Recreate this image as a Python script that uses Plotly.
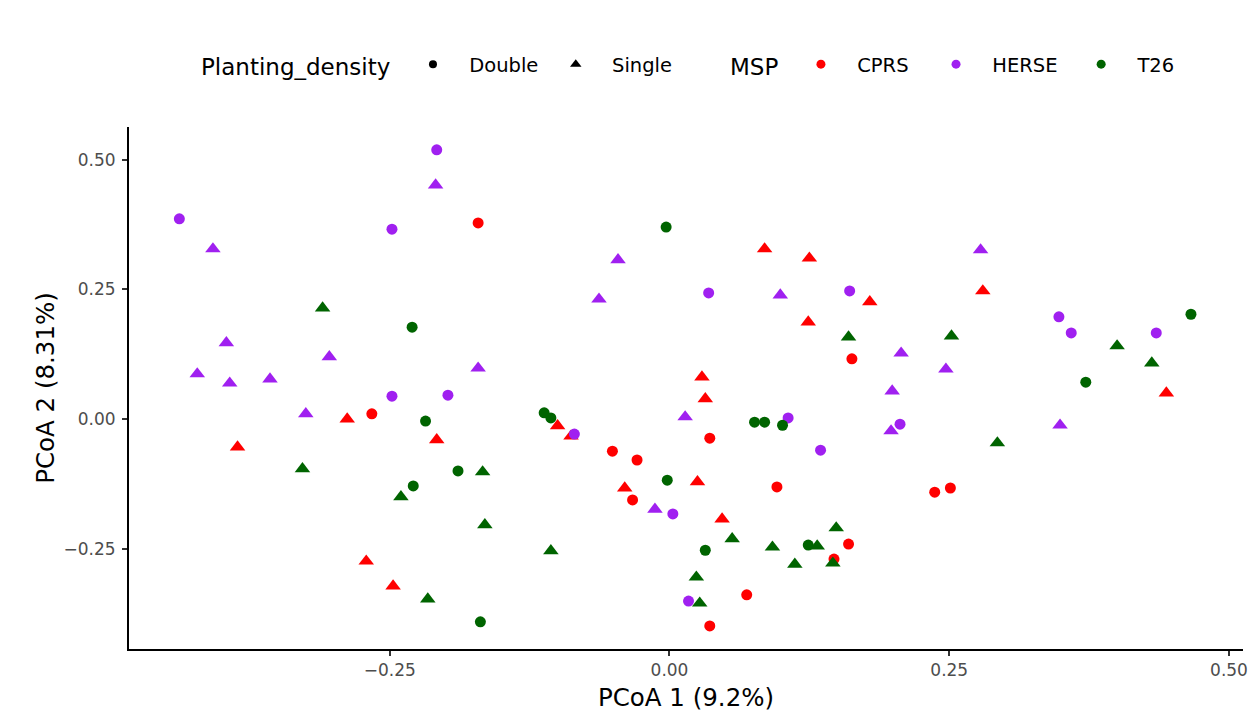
import plotly.graph_objects as go

# ---- data (PCoA coordinates) ----
cprs_double_x = [-0.171, -0.266, -0.051, -0.029, -0.033, 0.036, 0.096, 0.237, 0.251, 0.160, 0.147, 0.069, 0.036, 0.163]
cprs_double_y = [0.378, 0.010, -0.062, -0.079, -0.156, -0.037, -0.131, -0.141, -0.133, -0.241, -0.270, -0.339, -0.399, 0.116]
cprs_single_x = [-0.288, -0.386, -0.271, -0.247, -0.208, -0.100, -0.088, -0.040, 0.085, 0.125, 0.179, 0.124, 0.029, 0.032, 0.025, 0.047, 0.280, 0.444]
cprs_single_y = [0.000, -0.054, -0.274, -0.322, -0.040, -0.013, -0.033, -0.133, 0.328, 0.310, 0.226, 0.187, 0.081, 0.039, -0.121, -0.193, 0.247, 0.050]

herse_double_x = [-0.438, -0.248, -0.248, -0.208, -0.198, -0.085, 0.003, 0.035, 0.161, 0.106, 0.135, 0.206, 0.017, 0.348, 0.359, 0.435]
herse_double_y = [0.386, 0.366, 0.044, 0.519, 0.046, -0.029, -0.183, 0.243, 0.247, 0.002, -0.060, -0.010, -0.351, 0.197, 0.166, 0.166]
herse_single_x = [-0.408, -0.396, -0.304, -0.422, -0.393, -0.357, -0.325, -0.209, -0.046, -0.063, -0.171, -0.013, 0.099, 0.207, 0.247, 0.199, 0.014, 0.198, 0.278, 0.349]
herse_single_y = [0.328, 0.147, 0.120, 0.087, 0.069, 0.077, 0.010, 0.451, 0.307, 0.231, 0.098, -0.174, 0.239, 0.127, 0.096, 0.054, 0.004, -0.023, 0.326, -0.012]

t26_double_x = [-0.230, -0.003, -0.218, -0.112, -0.106, -0.189, -0.229, -0.169, -0.002, 0.076, 0.085, 0.101, 0.032, 0.124, 0.466, 0.372]
t26_double_y = [0.177, 0.370, -0.004, 0.012, 0.002, -0.100, -0.129, -0.391, -0.118, -0.006, -0.006, -0.012, -0.253, -0.243, 0.202, 0.071]
t26_single_x = [-0.310, -0.328, -0.240, -0.167, -0.165, -0.106, -0.216, 0.160, 0.252, 0.056, 0.092, 0.149, 0.132, 0.112, 0.146, 0.024, 0.027, 0.400, 0.431, 0.293]
t26_single_y = [0.214, -0.096, -0.150, -0.102, -0.204, -0.254, -0.347, 0.158, 0.160, -0.231, -0.247, -0.210, -0.245, -0.280, -0.278, -0.305, -0.355, 0.141, 0.108, -0.046]

msp_levels = ["CPRS", "HERSE", "T26"]
density_levels = ["Double", "Single"]
tick_vals = [-0.25, 0.0, 0.25, 0.50]
tick_text = ["\u22120.25", "0.00", "0.25", "0.50"]

colors = {"CPRS": "#FF0000", "HERSE": "#A020F0", "T26": "#006400"}
symbols = {"Double": "circle", "Single": "triangle-up"}
sizes = {"Double": 11, "Single": 13.5}

series = {
    ("CPRS", "Double"): (cprs_double_x, cprs_double_y),
    ("CPRS", "Single"): (cprs_single_x, cprs_single_y),
    ("HERSE", "Double"): (herse_double_x, herse_double_y),
    ("HERSE", "Single"): (herse_single_x, herse_single_y),
    ("T26", "Double"): (t26_double_x, t26_double_y),
    ("T26", "Single"): (t26_single_x, t26_single_y),
}

fig = go.Figure()
for (msp, dens), (xs, ys) in series.items():
    fig.add_trace(go.Scatter(
        x=xs, y=ys, mode="markers", showlegend=False,
        marker=dict(color=colors[msp], symbol=symbols[dens], size=sizes[dens], line=dict(width=0)),
        name=f"{msp} {dens}",
    ))

NB = "\u00a0"
TH = "\u2009"
lead = NB * 2 + TH
trail = {"Double": NB * 2, "Single": NB * 2, "CPRS": NB * 3 + TH, "HERSE": NB * 3, "T26": NB * 2}

# legend entries (shape legend)
for dens in density_levels:
    fig.add_trace(go.Scatter(
        x=[None], y=[None], mode="markers", name=lead + dens + trail[dens], legend="legend",
        marker=dict(color="black", symbol=symbols[dens], size=8 if dens == "Double" else 10),
    ))
# legend entries (colour legend)
for msp in msp_levels:
    fig.add_trace(go.Scatter(
        x=[None], y=[None], mode="markers", name=lead + msp + trail[msp], legend="legend2",
        marker=dict(color=colors[msp], symbol="circle", size=9),
    ))

W, H = 1249, 709  # page body has an 8px margin
font_family = "DejaVu Sans, Verdana, sans-serif"
fig.update_layout(
    width=W, height=H,
    margin=dict(l=121, r=9, t=119, b=68),
    paper_bgcolor="white", plot_bgcolor="white",
    font=dict(family=font_family, color="black", size=18),
    legend=dict(
        title=dict(text="Planting_density" + NB * 2, font=dict(size=23), side="left"),
        orientation="h", xref="container", yref="container",
        x=191 / W, y=1 - 57 / H, xanchor="left", yanchor="middle",
        font=dict(size=19.5), bgcolor="rgba(0,0,0,0)", itemwidth=30,
    ),
    legend2=dict(
        title=dict(text="MSP" + NB * 2, font=dict(size=23), side="left"),
        orientation="h", xref="container", yref="container",
        x=720 / W, y=1 - 57 / H, xanchor="left", yanchor="middle",
        font=dict(size=19.5), bgcolor="rgba(0,0,0,0)", itemwidth=30,
    ),
    xaxis=dict(
        title=dict(text="PCoA 1 (9.2%)", font=dict(size=24.5, color="black"), standoff=9),
        range=[-0.483, 0.5125], tickvals=tick_vals, ticktext=tick_text,
        showgrid=False, zeroline=False, showline=True, linecolor="black", linewidth=2,
        ticks="outside", ticklen=5, tickwidth=1.5, tickcolor="#333333",
        tickfont=dict(size=17, color="#4D4D4D"),
    ),
    yaxis=dict(
        title=dict(text="PCoA 2 (8.31%)", font=dict(size=24.5, color="black"), standoff=2),
        range=[-0.4434, 0.563], tickvals=tick_vals, ticktext=tick_text,
        showgrid=False, zeroline=False, showline=True, linecolor="black", linewidth=2,
        ticks="outside", ticklen=5, tickwidth=1.5, tickcolor="#333333",
        tickfont=dict(size=17, color="#4D4D4D"), ticklabelstandoff=3,
    ),
)

fig.write_html("out.html")
